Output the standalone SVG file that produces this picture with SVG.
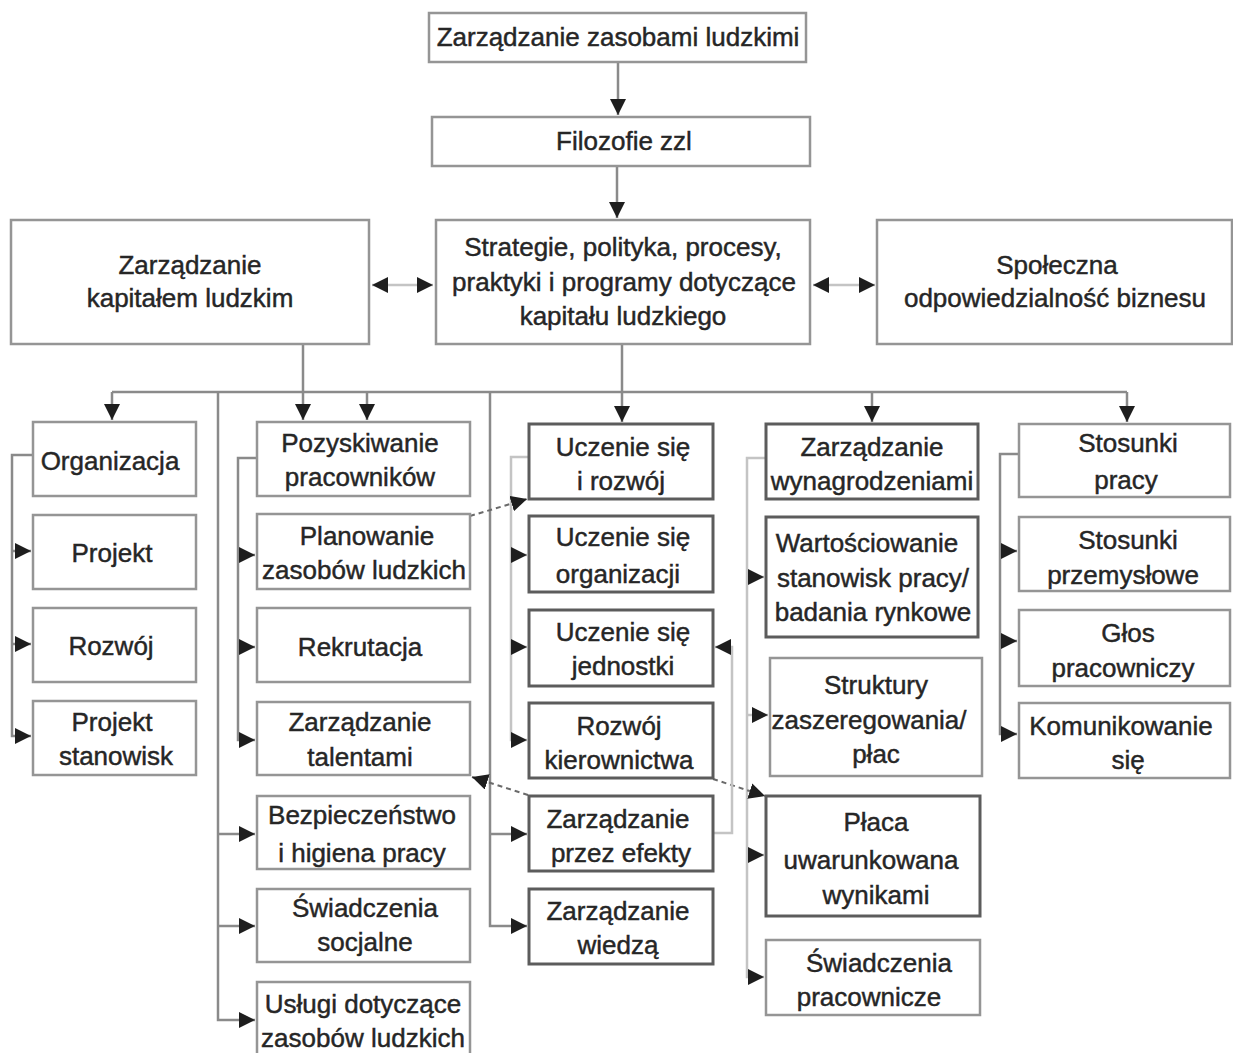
<svg xmlns="http://www.w3.org/2000/svg" width="1233" height="1053" viewBox="0 0 1233 1053">
  <style>
    .box { fill: #ffffff; stroke: #959595; stroke-width: 2.5; }
    .box.dk { stroke: #5c5c5c; stroke-width: 3; }
    text { font-family: "Liberation Sans", Arial, sans-serif; font-size: 26px; fill: #262626; stroke: #262626; stroke-width: 0.45; text-anchor: middle; }
    .ln { fill: none; stroke: #8a8a8a; stroke-width: 2.5; }
    .ln.lt { stroke: #c4c4c4; }
    .ln.ds { stroke: #6a6a6a; stroke-width: 2; stroke-dasharray: 5 4; }
  </style>
  <defs>
    <marker id="arr" markerUnits="userSpaceOnUse" markerWidth="16" markerHeight="16" refX="16" refY="8" orient="auto-start-reverse">
      <path d="M0,0 L16,8 L0,16 z" fill="#1e1e1e"/>
    </marker>
  </defs>

  <rect width="1233" height="1053" fill="#ffffff"/>

  <!-- connectors -->
  <g id="connectors">
    <!-- top chain -->
    <path class="ln" d="M618,62 V115" marker-end="url(#arr)"/>
    <path class="ln" d="M617,166 V218" marker-end="url(#arr)"/>
    <!-- side links to the strategy box -->
    <path class="ln lt" d="M372,285 H433" marker-start="url(#arr)" marker-end="url(#arr)"/>
    <path class="ln lt" d="M813,285 H875" marker-start="url(#arr)" marker-end="url(#arr)"/>
    <!-- distribution bus -->
    <path class="ln" d="M112,392 H1127"/>
    <path class="ln" d="M303,344 V420" marker-end="url(#arr)"/>
    <path class="ln" d="M622,344 V422" marker-end="url(#arr)"/>
    <path class="ln" d="M112,392 V420" marker-end="url(#arr)"/>
    <path class="ln" d="M367,392 V420" marker-end="url(#arr)"/>
    <path class="ln" d="M872,392 V422" marker-end="url(#arr)"/>
    <path class="ln" d="M1127,392 V422" marker-end="url(#arr)"/>
    <!-- long drops from the bus -->
    <path class="ln" d="M218,392 V1020 H255" marker-end="url(#arr)"/>
    <path class="ln" d="M218,834 H255" marker-end="url(#arr)"/>
    <path class="ln" d="M218,926 H255" marker-end="url(#arr)"/>
    <path class="ln" d="M490,392 V926 H527" marker-end="url(#arr)"/>
    <path class="ln" d="M490,834 H527" marker-end="url(#arr)"/>
    <!-- column 1 bracket -->
    <path class="ln" d="M33,455 H12 V736 H31" marker-end="url(#arr)"/>
    <path class="ln" d="M12,551 H31" marker-end="url(#arr)"/>
    <path class="ln" d="M12,644 H31" marker-end="url(#arr)"/>
    <!-- column 2 bracket -->
    <path class="ln" d="M257,458 H238 V740 H255" marker-end="url(#arr)"/>
    <path class="ln" d="M238,555 H255" marker-end="url(#arr)"/>
    <path class="ln" d="M238,647 H255" marker-end="url(#arr)"/>
    <!-- column 3 bracket -->
    <path class="ln lt" d="M529,457 H511 V740 H527" marker-end="url(#arr)"/>
    <path class="ln lt" d="M511,555 H527" marker-end="url(#arr)"/>
    <path class="ln lt" d="M511,647 H527" marker-end="url(#arr)"/>
    <!-- column 4 bracket -->
    <path class="ln lt" d="M766,458 H747 V977 H764" marker-end="url(#arr)"/>
    <path class="ln lt" d="M747,577 H764" marker-end="url(#arr)"/>
    <path class="ln lt" d="M747,715 H768" marker-end="url(#arr)"/>
    <path class="ln lt" d="M747,855 H764" marker-end="url(#arr)"/>
    <!-- column 5 bracket -->
    <path class="ln" d="M1019,454 H1000 V734 H1017" marker-end="url(#arr)"/>
    <path class="ln" d="M1000,551 H1017" marker-end="url(#arr)"/>
    <path class="ln" d="M1000,641 H1017" marker-end="url(#arr)"/>
    <!-- cross links -->
    <path class="ln ds" d="M470,516 L527,499" marker-end="url(#arr)"/>
    <path class="ln ds" d="M528,795 L472,777" marker-end="url(#arr)"/>
    <path class="ln ds" d="M713,779 L765,796" marker-end="url(#arr)"/>
    <path class="ln lt" d="M713,833 H732 V647 H715" marker-end="url(#arr)"/>
  </g>

  <!-- upper level -->
  <g id="zzl">
    <rect class="box" x="429" y="13" width="377" height="49"/>
    <text x="618" y="46">Zarządzanie  zasobami ludzkimi</text>
  </g>
  <g id="filozofie">
    <rect class="box" x="432" y="117" width="378" height="49"/>
    <text x="624" y="150">Filozofie zzl</text>
  </g>
  <g id="kapital">
    <rect class="box" x="11" y="220" width="358" height="124"/>
    <text x="190" y="274">Zarządzanie</text>
    <text x="190" y="307">kapitałem ludzkim</text>
  </g>
  <g id="strategie">
    <rect class="box" x="436" y="220" width="374" height="124"/>
    <text x="623" y="256">Strategie, polityka, procesy,</text>
    <text x="624" y="291">praktyki i programy  dotyczące</text>
    <text x="623" y="325">kapitału  ludzkiego</text>
  </g>
  <g id="csr">
    <rect class="box" x="877" y="220" width="355" height="124"/>
    <text x="1057" y="274">Społeczna</text>
    <text x="1055" y="307">odpowiedzialność biznesu</text>
  </g>

  <!-- column 1 -->
  <g id="organizacja">
    <rect class="box" x="33" y="422" width="163" height="74"/>
    <text x="110" y="470">Organizacja</text>
  </g>
  <g id="projekt">
    <rect class="box" x="33" y="515" width="163" height="74"/>
    <text x="112" y="562">Projekt</text>
  </g>
  <g id="rozwoj">
    <rect class="box" x="33" y="608" width="163" height="74"/>
    <text x="111" y="655">Rozwój</text>
  </g>
  <g id="projekt-stanowisk">
    <rect class="box" x="33" y="701" width="163" height="74"/>
    <text x="112" y="731">Projekt</text>
    <text x="116" y="765">stanowisk</text>
  </g>

  <!-- column 2 -->
  <g id="pozyskiwanie">
    <rect class="box" x="257" y="422" width="213" height="74"/>
    <text x="360" y="452">Pozyskiwanie</text>
    <text x="360" y="486">pracowników</text>
  </g>
  <g id="planowanie">
    <rect class="box" x="257" y="514" width="213" height="75"/>
    <text x="367" y="545">Planowanie</text>
    <text x="364" y="579">zasobów ludzkich</text>
  </g>
  <g id="rekrutacja">
    <rect class="box" x="257" y="608" width="213" height="74"/>
    <text x="360" y="656">Rekrutacja</text>
  </g>
  <g id="talenty">
    <rect class="box" x="257" y="702" width="213" height="73"/>
    <text x="360" y="731">Zarządzanie</text>
    <text x="360" y="766">talentami</text>
  </g>
  <g id="bhp">
    <rect class="box" x="257" y="796" width="213" height="73"/>
    <text x="362" y="824">Bezpieczeństwo</text>
    <text x="362" y="862">i higiena pracy</text>
  </g>
  <g id="swiadczenia-socjalne">
    <rect class="box" x="257" y="889" width="213" height="73"/>
    <text x="365" y="917">Świadczenia</text>
    <text x="365" y="951">socjalne</text>
  </g>
  <g id="uslugi">
    <rect class="box" x="257" y="982" width="213" height="73"/>
    <text x="363" y="1013">Usługi dotyczące</text>
    <text x="363" y="1047">zasobów ludzkich</text>
  </g>

  <!-- column 3 -->
  <g id="uczenie-rozwoj">
    <rect class="box dk" x="529" y="424" width="184" height="75"/>
    <text x="623" y="456">Uczenie się</text>
    <text x="621" y="490">i rozwój</text>
  </g>
  <g id="uczenie-organizacji">
    <rect class="box dk" x="529" y="516" width="184" height="76"/>
    <text x="623" y="546">Uczenie się</text>
    <text x="618" y="583">organizacji</text>
  </g>
  <g id="uczenie-jednostki">
    <rect class="box dk" x="529" y="610" width="184" height="76"/>
    <text x="623" y="641">Uczenie się</text>
    <text x="623" y="675">jednostki</text>
  </g>
  <g id="kierownictwo">
    <rect class="box dk" x="529" y="703" width="184" height="75"/>
    <text x="619" y="735">Rozwój</text>
    <text x="619" y="769">kierownictwa</text>
  </g>
  <g id="efekty">
    <rect class="box dk" x="529" y="796" width="184" height="75"/>
    <text x="618" y="828">Zarządzanie</text>
    <text x="621" y="862">przez  efekty</text>
  </g>
  <g id="wiedza">
    <rect class="box dk" x="529" y="889" width="184" height="75"/>
    <text x="618" y="920">Zarządzanie</text>
    <text x="618" y="954">wiedzą</text>
  </g>

  <!-- column 4 -->
  <g id="wynagrodzenia">
    <rect class="box dk" x="766" y="424" width="212" height="75"/>
    <text x="872" y="456">Zarządzanie</text>
    <text x="872" y="490">wynagrodzeniami</text>
  </g>
  <g id="wartosciowanie">
    <rect class="box dk" x="766" y="517" width="212" height="120"/>
    <text x="867" y="552">Wartościowanie</text>
    <text x="873" y="587">stanowisk pracy/</text>
    <text x="873" y="621">badania rynkowe</text>
  </g>
  <g id="struktury">
    <rect class="box" x="770" y="658" width="212" height="118"/>
    <text x="876" y="694">Struktury</text>
    <text x="869" y="729">zaszeregowania/</text>
    <text x="876" y="763">płac</text>
  </g>
  <g id="placa">
    <rect class="box dk" x="766" y="796" width="214" height="120"/>
    <text x="876" y="831">Płaca</text>
    <text x="871" y="869">uwarunkowana</text>
    <text x="876" y="904">wynikami</text>
  </g>
  <g id="swiadczenia-pracownicze">
    <rect class="box" x="766" y="940" width="214" height="75"/>
    <text x="879" y="972">Świadczenia</text>
    <text x="869" y="1006">pracownicze</text>
  </g>

  <!-- column 5 -->
  <g id="stosunki-pracy">
    <rect class="box" x="1019" y="424" width="211" height="73"/>
    <text x="1128" y="452">Stosunki</text>
    <text x="1126" y="489">pracy</text>
  </g>
  <g id="stosunki-przemyslowe">
    <rect class="box" x="1019" y="517" width="211" height="74"/>
    <text x="1128" y="549">Stosunki</text>
    <text x="1123" y="584">przemysłowe</text>
  </g>
  <g id="glos">
    <rect class="box" x="1019" y="610" width="211" height="76"/>
    <text x="1128" y="642">Głos</text>
    <text x="1123" y="677">pracowniczy</text>
  </g>
  <g id="komunikowanie">
    <rect class="box" x="1019" y="703" width="211" height="75"/>
    <text x="1121" y="735">Komunikowanie</text>
    <text x="1128" y="769">się</text>
  </g>
</svg>
